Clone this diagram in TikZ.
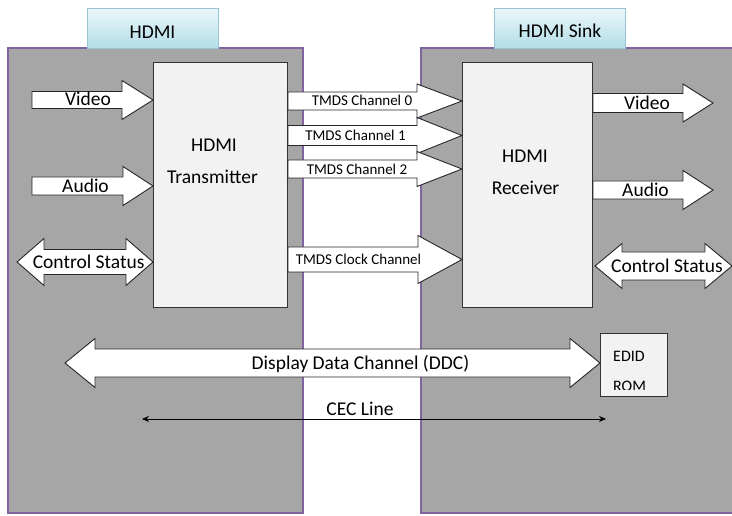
\documentclass[tikz,border=0pt]{standalone}
\usepackage{fontspec}
\setmainfont{Carlito}
\usetikzlibrary{calc,arrows.meta}

\definecolor{panelgray}{HTML}{A6A6A6}
\definecolor{panelline}{HTML}{8064A2}
\definecolor{boxfill}{HTML}{F2F2F2}
\definecolor{tabtop}{HTML}{EAF6FA}
\definecolor{tabbot}{HTML}{B4DEE8}
\definecolor{tabline}{HTML}{98C3D3}

\tikzset{
  panel/.style={fill=panelgray, draw=panelline, line width=1.6pt},
  tab/.style={draw=tabline, line width=1pt, top color=tabtop, bottom color=tabbot,
    minimum width=131pt, minimum height=40pt, anchor=north west, inner sep=0pt},
  box/.style={draw=black!80, line width=1pt, fill=boxfill, anchor=north west, inner sep=0pt},
  blockarrow/.style={draw=black!85, fill=white, line width=0.9pt, line join=miter},
  big/.style={font=\fontsize{19.5}{23}\selectfont, inner sep=0pt, anchor=base},
  small/.style={font=\fontsize{15}{18}\selectfont, inner sep=0pt, anchor=base},
  edidtxt/.style={font=\fontsize{16}{19}\selectfont, inner sep=0pt, anchor=base west},
  cec/.style={line width=0.8pt, {Stealth[length=7pt,width=6pt]}-{Stealth[length=7pt,width=6pt]}}
}

% block arrow: tail, tip, shaft half, head half, head length
\newcommand{\blockright}[5]{%
  \draw[blockarrow] let \p1=(#1), \p2=(#2) in
    (\x1,\y2+#3pt) -- (\x2-#5pt,\y2+#3pt) -- (\x2-#5pt,\y2+#4pt) -- (\x2,\y2)
    -- (\x2-#5pt,\y2-#4pt) -- (\x2-#5pt,\y2-#3pt) -- (\x1,\y2-#3pt) -- cycle;}
% double block arrow: left tip, right tip, shaft half, head half, head length
\newcommand{\blockboth}[5]{%
  \draw[blockarrow] let \p1=(#1), \p2=(#2) in
    (\x1,\y1) -- (\x1+#5pt,\y1+#4pt) -- (\x1+#5pt,\y1+#3pt) -- (\x2-#5pt,\y1+#3pt)
    -- (\x2-#5pt,\y1+#4pt) -- (\x2,\y1) -- (\x2-#5pt,\y1-#4pt) -- (\x2-#5pt,\y1-#3pt)
    -- (\x1+#5pt,\y1-#3pt) -- (\x1+#5pt,\y1-#4pt) -- cycle;}

\begin{document}
\begin{tikzpicture}[x=1pt,y=-1pt]
  \useasboundingbox (0,0) rectangle (732,516);

  % source and sink
  \draw[panel] (8,48) rectangle (303,513);
  \draw[panel] (421,48) rectangle (745,513);
  \node[tab] (tabL) at (87,8) {};
  \node[tab] (tabR) at (494,8) {};
  \node[big] (srcname) at (152.5,38.5) {HDMI};
  \node[big] (sinkname) at (560,37.7) {HDMI Sink};

  % blocks
  \node[box, minimum width=134pt, minimum height=245pt] (tx) at (153,62) {};
  \node[box, minimum width=130pt, minimum height=245pt] (rx) at (462,62) {};
  \node[box, minimum width=67pt, minimum height=63pt] (edid) at (600,333) {};
  \node[big] (txname) at (214,151.5) {HDMI};
  \node[big] (txname2) at (212.5,183.3) {Transmitter};
  \node[big] (rxname) at (525,163) {HDMI};
  \node[big] (rxname2) at (525.5,194.3) {Receiver};
  \begin{scope}
    \clip (601,334) rectangle (666,389);
    \node[edidtxt] (edid1) at (613,361) {EDID};
    \node[edidtxt] (edid2) at (613,391) {ROM};
  \end{scope}

  % inputs
  \coordinate (vin) at (32,100);
  \coordinate (ain) at (32,186);
  \coordinate (csin) at (17,262);
  \blockright{vin}{tx.west |- vin}{8.5}{19.5}{31}
  \blockright{ain}{tx.west |- ain}{9}{19.5}{30}
  \blockboth{csin}{tx.west |- csin}{12.5}{23.5}{27}
  \node[big] (vinlbl) at (88,106) {Video};
  \node[big] (ainlbl) at (85.5,192.7) {Audio};
  \node[big] (csinlbl) at (88.7,268.3) {Control Status};

  % outputs
  \coordinate (vout) at (713,103);
  \coordinate (aout) at (713,190);
  \coordinate (csouta) at (595,266);
  \coordinate (csoutb) at (732,266);
  \blockright{rx.east |- vout}{vout}{9.5}{19}{30}
  \blockright{rx.east |- aout}{aout}{9}{19.5}{30}
  \blockboth{csouta}{csoutb}{14}{22.5}{27}
  \node[big] (voutlbl) at (647,110) {Video};
  \node[big] (aoutlbl) at (645.5,196.7) {Audio};
  \node[big] (csoutlbl) at (667,272.7) {Control Status};

  % TMDS links
  \coordinate (ch0) at (375,101);
  \coordinate (ch1) at (375,135.5);
  \coordinate (ch2) at (375,169);
  \coordinate (clk) at (375,259.5);
  \blockright{tx.east |- ch0}{rx.west |- ch0}{9}{17}{45}
  \blockright{tx.east |- ch1}{rx.west |- ch1}{10}{18}{45}
  \blockright{tx.east |- ch2}{rx.west |- ch2}{9}{17.5}{45}
  \blockright{tx.east |- clk}{rx.west |- clk}{12.5}{24}{44}
  \node[small] (ch0lbl) at (362,106) {TMDS Channel 0};
  \node[small] (ch1lbl) at (355.5,141) {TMDS Channel 1};
  \node[small] (ch2lbl) at (357,175) {TMDS Channel 2};
  \node[small] (clklbl) at (358.5,265) {TMDS Clock Channel};

  % DDC and CEC
  \coordinate (ddc) at (65,363);
  \blockboth{ddc}{edid.west |- ddc}{14}{24.5}{30}
  \node[big] (ddclbl) at (360.5,369) {Display Data Channel (DDC)};
  \coordinate (cecL) at (142,419);
  \coordinate (cecR) at (606,419);
  \draw[cec] (cecL) -- (cecR);
  \node[big] (ceclbl) at (360,415) {CEC Line};
\end{tikzpicture}
\end{document}
